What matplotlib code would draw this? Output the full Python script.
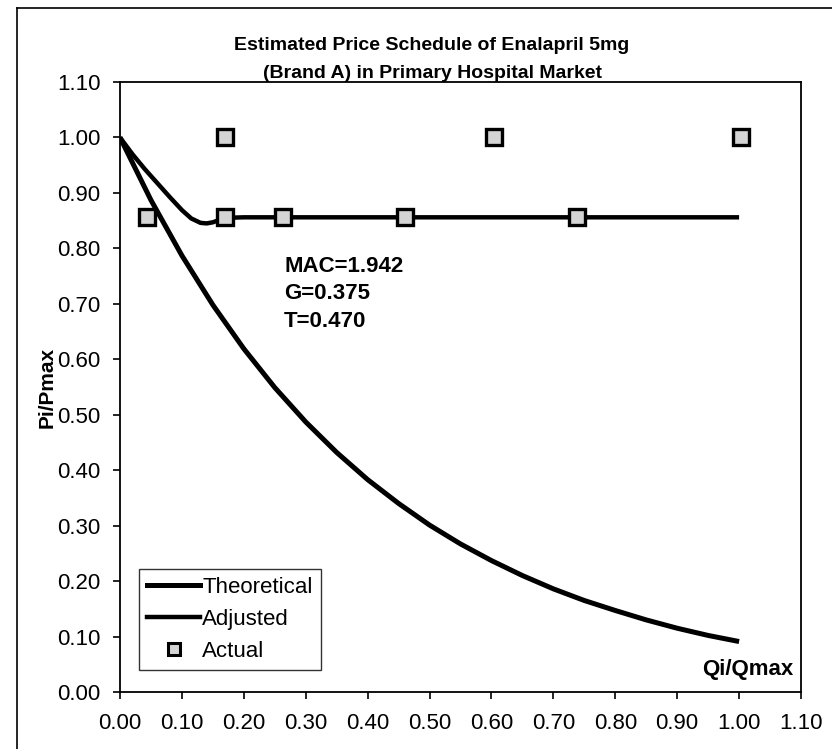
import matplotlib.pyplot as plt
from matplotlib.lines import Line2D

plt.rcParams['font.family'] = ['Liberation Sans', 'DejaVu Sans']

# data
q_theo = [0.00, 0.05, 0.10, 0.15, 0.20, 0.25, 0.30, 0.35, 0.40, 0.45, 0.50,
          0.55, 0.60, 0.65, 0.70, 0.75, 0.80, 0.85, 0.90, 0.95, 1.00]
p_theo = [1.000, 0.887, 0.787, 0.698, 0.619, 0.549, 0.487, 0.432, 0.383, 0.340, 0.301,
          0.267, 0.237, 0.210, 0.186, 0.165, 0.147, 0.130, 0.115, 0.102, 0.091]

q_adj = [0.00, 0.02, 0.04, 0.06, 0.08, 0.10, 0.115, 0.13, 0.14, 0.15, 0.16, 0.17,
         0.20, 0.30, 0.50, 0.70, 0.90, 1.00]
p_adj = [1.000, 0.970, 0.943, 0.918, 0.893, 0.869, 0.854, 0.846, 0.845, 0.847, 0.851, 0.855,
         0.856, 0.856, 0.856, 0.856, 0.856, 0.856]

q_act = [0.044, 0.170, 0.170, 0.264, 0.461, 0.604, 0.738, 1.003]
p_act = [0.856, 1.000, 0.856, 0.856, 0.856, 1.000, 0.856, 1.000]

ticks = [0.00, 0.10, 0.20, 0.30, 0.40, 0.50, 0.60, 0.70, 0.80, 0.90, 1.00, 1.10]

params = ["MAC=1.942", "G=0.375", "T=0.470"]

fig = plt.figure(figsize=(8.32, 7.49), dpi=100)
ax = fig.add_axes([120 / 832, 1 - 692 / 749, 681 / 832, 610 / 749])

ax.plot(q_theo, p_theo, color="black", lw=3.6, solid_capstyle="butt", zorder=3)
ax.plot(q_adj, p_adj, color="black", lw=3.2, solid_capstyle="butt", zorder=3)
ax.plot(q_act, p_act, ls="none", marker="s", ms=11, mfc="#d4d4d4",
        mec="black", mew=2.4, zorder=4)

ax.set_xlim(0, 1.1)
ax.set_ylim(0, 1.1)
ax.set_xticks(ticks)
ax.set_yticks(ticks)
ax.set_xticklabels([f"{t:.2f}" for t in ticks])
ax.set_yticklabels([f"{t:.2f}" for t in ticks])
ax.tick_params(direction="out", length=5, width=1.2, labelsize=16)
ax.tick_params(axis="x", pad=10)
ax.tick_params(axis="y", pad=9)
for s in ax.spines.values():
    s.set_linewidth(1.3)

ax.set_ylabel("Pi/Pmax", fontsize=15, fontweight="bold", labelpad=0)
ax.text(1.087, 0.022, "Qi/Qmax", fontsize=16, fontweight="semibold", ha="right", va="bottom")
for i, s in enumerate(params):
    ax.text(0.265, 0.768 - i * 0.05, s, fontsize=16, fontweight="bold",
            ha="left", va="center")

fig.text(432 / 832, 1 - 45 / 749, "Estimated Price Schedule of Enalapril 5mg",
         fontsize=14, fontweight="bold", ha="center", va="center")
fig.text(432 / 832, 1 - 74 / 749, "(Brand A) in Primary Hospital Market",
         fontsize=14, fontweight="bold", ha="center", va="center")

handles = [
    Line2D([], [], color="black", lw=3.6),
    Line2D([], [], color="black", lw=3.2),
    Line2D([], [], ls="none", marker="s", ms=9, mfc="#d4d4d4", mec="black", mew=2.2),
]
leg = ax.legend(handles, ["Theoretical", "Adjusted", "Actual"], loc="lower left",
                bbox_to_anchor=(0.028, 0.036), fontsize=16, frameon=True, fancybox=False,
                edgecolor="black", handlelength=2.4, handletextpad=0.1,
                labelspacing=0.5, borderpad=0.35, borderaxespad=0)
leg.get_frame().set_linewidth(1.0)

# outer frame of the scanned chart
fig.add_artist(Line2D([17 / 832, 17 / 832], [0, 1 - 8 / 749], color="black", lw=1.2))
fig.add_artist(Line2D([17 / 832, 1], [1 - 8 / 749, 1 - 8 / 749], color="black", lw=1.2))

fig.savefig("out.png", dpi=100)
